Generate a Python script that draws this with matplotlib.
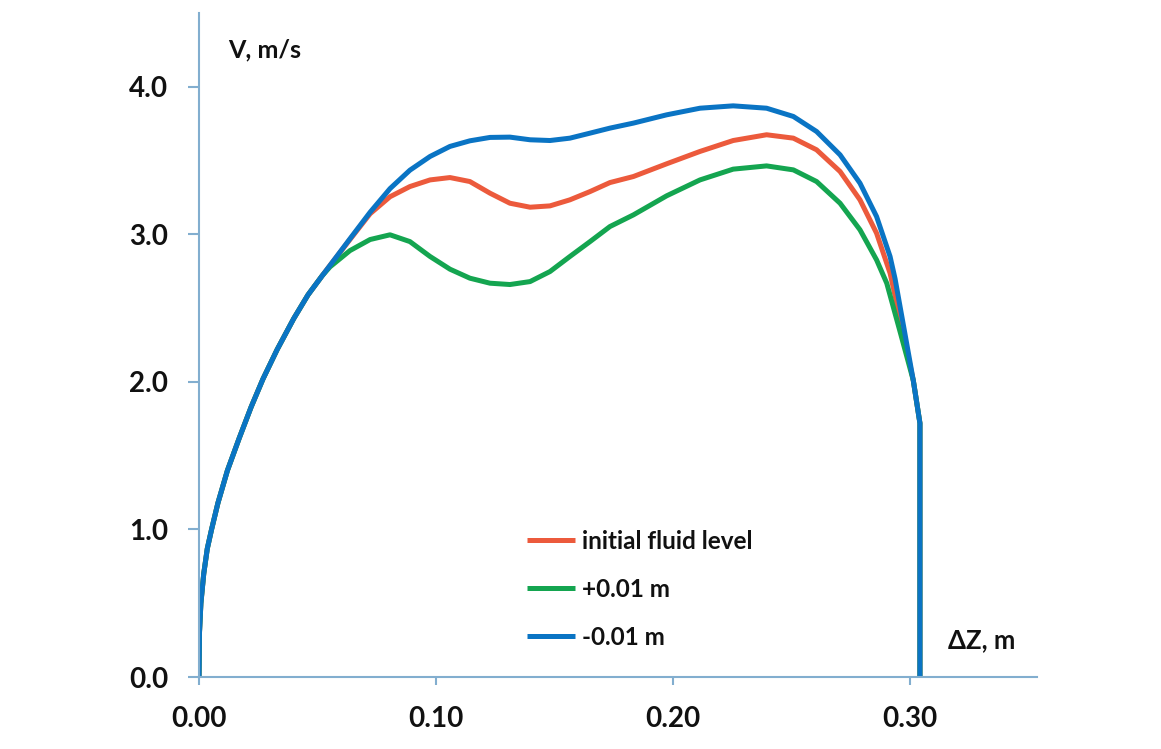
import matplotlib
matplotlib.use("Agg")
import matplotlib.pyplot as plt

plt.rcParams['font.family'] = ['Lato', 'DejaVu Sans']

# ---- data ----
common_x = [0.000, 0.0002, 0.0008, 0.002, 0.0035, 0.0053, 0.008, 0.012, 0.017, 0.022, 0.027, 0.033,
            0.040, 0.046, 0.052]
common_y = [0.00, 0.30, 0.50, 0.70, 0.87, 1.00, 1.18, 1.40, 1.62, 1.83, 2.02, 2.22,
            2.43, 2.59, 2.72]

red_x = [0.0553, 0.0637, 0.0722, 0.0806, 0.0890, 0.0975, 0.1059, 0.1143, 0.1228, 0.1312, 0.1397,
         0.1481, 0.1565, 0.1650, 0.1734, 0.1833, 0.1973, 0.2114, 0.2254, 0.2395, 0.2508, 0.2606,
         0.2705, 0.2789, 0.2859, 0.2916, 0.2960, 0.3014, 0.3042, 0.3042]
red_y = [2.79, 2.965, 3.14, 3.255, 3.324, 3.369, 3.385, 3.358, 3.279, 3.211, 3.184,
         3.193, 3.234, 3.29, 3.351, 3.392, 3.478, 3.562, 3.636, 3.675, 3.652, 3.573,
         3.426, 3.234, 3.008, 2.737, 2.42, 2.01, 1.72, 0.0]

green_x = [0.0553, 0.0637, 0.0722, 0.0806, 0.0890, 0.0975, 0.1059, 0.1143, 0.1228, 0.1312, 0.1397,
           0.1481, 0.1565, 0.1650, 0.1734, 0.1833, 0.1973, 0.2114, 0.2254, 0.2395, 0.2508, 0.2606,
           0.2705, 0.2789, 0.2859, 0.2902, 0.2960, 0.3014, 0.3042, 0.3042]
green_y = [2.78, 2.89, 2.965, 2.997, 2.951, 2.85, 2.764, 2.703, 2.669, 2.660, 2.680,
           2.748, 2.85, 2.951, 3.053, 3.132, 3.261, 3.369, 3.442, 3.464, 3.437, 3.358,
           3.211, 3.031, 2.827, 2.669, 2.33, 2.01, 1.72, 0.0]

blue_x = [0.0553, 0.0637, 0.0722, 0.0806, 0.0890, 0.0975, 0.1059, 0.1143, 0.1228, 0.1312, 0.1397,
          0.1481, 0.1565, 0.1650, 0.1734, 0.1833, 0.1973, 0.2114, 0.2254, 0.2395, 0.2508, 0.2606,
          0.2705, 0.2789, 0.2859, 0.2916, 0.2937, 0.2975, 0.3014, 0.3042, 0.3042]
blue_y = [2.79, 2.97, 3.15, 3.31, 3.435, 3.528, 3.596, 3.634, 3.657, 3.659, 3.641,
          3.636, 3.652, 3.686, 3.72, 3.754, 3.81, 3.855, 3.871, 3.855, 3.799, 3.697,
          3.539, 3.347, 3.121, 2.85, 2.70, 2.36, 2.01, 1.72, 0.0]

labels = ['initial fluid level', '+0.01 m', '-0.01 m']
colors = ['#EC5A3C', '#14A550', '#0A74C4']

x_ticks = [0.0, 0.1, 0.2, 0.3]
x_ticklabels = ['0.00', '0.10', '0.20', '0.30']
y_ticks = [0.0, 1.0, 2.0, 3.0, 4.0]
y_ticklabels = ['0.0', '1.0', '2.0', '3.0', '4.0']

# ---- figure ----
fig = plt.figure(figsize=(11.61, 7.49), dpi=100)
ax = fig.add_axes([0.1714, 0.0961, 0.7218, 0.8865])

series = [(red_x, red_y), (green_x, green_y), (blue_x, blue_y)]
for (sx, sy), lab, col in zip(series, labels, colors):
    ax.plot(common_x + sx, common_y + sy, color=col, lw=3.6, label=lab,
            solid_capstyle='butt', solid_joinstyle='round')

ax.set_xlim(0, 0.3536)
ax.set_ylim(0, 4.5)

axis_col = '#82AECF'
for s in ['top', 'right']:
    ax.spines[s].set_visible(False)
for s in ['left', 'bottom']:
    ax.spines[s].set_color(axis_col)
    ax.spines[s].set_linewidth(1.5)

ax.set_xticks(x_ticks)
ax.set_xticklabels(x_ticklabels)
ax.set_yticks(y_ticks)
ax.set_yticklabels(y_ticklabels)
ax.tick_params(axis='y', direction='out', length=8, width=1.5, color=axis_col, pad=14,
               labelsize=20)
ax.tick_params(axis='x', direction='out', length=6, width=1.5, color=axis_col, pad=15,
               labelsize=20)
for t in ax.get_xticklabels() + ax.get_yticklabels():
    t.set_fontweight('bold')
    t.set_color('#111111')

ax.text(0.0346, 0.944, 'V, m/s', transform=ax.transAxes, fontsize=18, fontweight='bold',
        ha='left', va='center', color='#111111')
ax.text(0.894, 0.0557, 'ΔZ, m', transform=ax.transAxes, fontsize=18.5, fontweight='bold',
        ha='left', va='center', color='#111111')

leg = ax.legend(loc='upper left', bbox_to_anchor=(0.391, 0.222), frameon=False,
                prop={'weight': 'bold', 'size': 17.5}, handlelength=1.98, handletextpad=0.29,
                labelspacing=1.03, borderpad=0, borderaxespad=0)
for t in leg.get_texts():
    t.set_color('#111111')

fig.savefig('out.png', dpi=100)
